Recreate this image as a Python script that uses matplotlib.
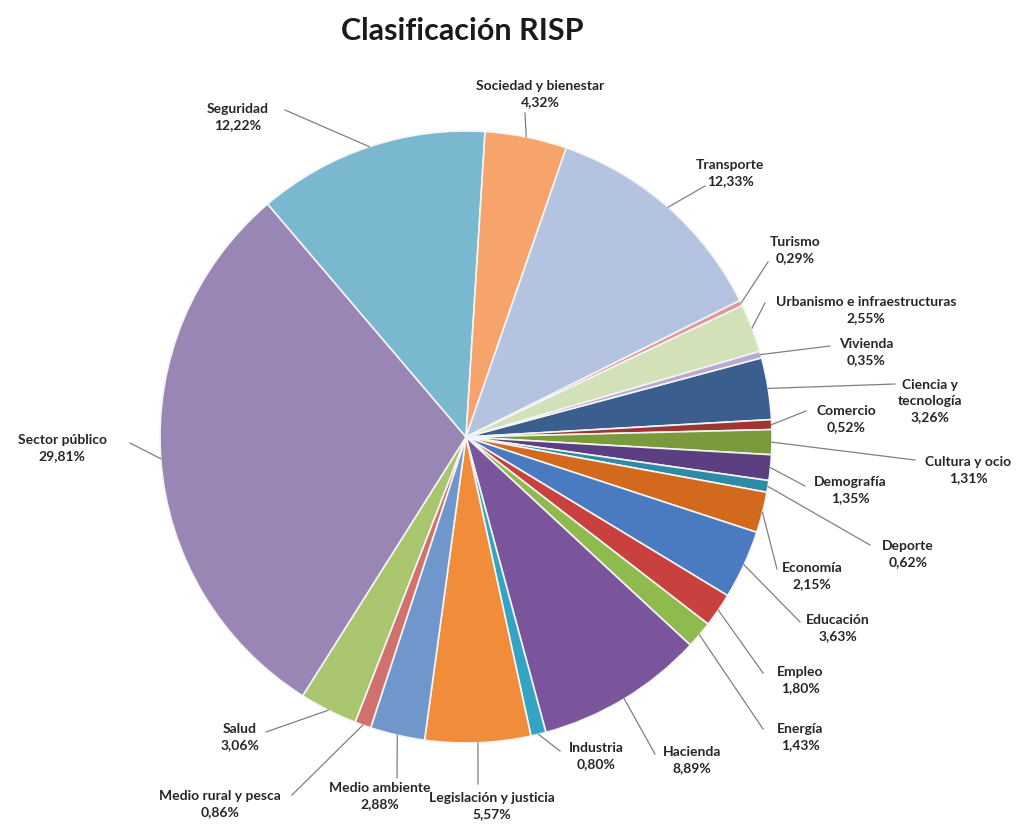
import numpy as np
import matplotlib.pyplot as plt

plt.rcParams['font.family'] = ['Lato', 'DejaVu Sans']

# data, alphabetical order (clockwise from Ciencia y tecnología)
categories = ['Ciencia y\ntecnología', 'Comercio', 'Cultura y ocio', 'Demografía', 'Deporte',
              'Economía', 'Educación', 'Empleo', 'Energía', 'Hacienda', 'Industria',
              'Legislación y justicia', 'Medio ambiente', 'Medio rural y pesca', 'Salud',
              'Sector público', 'Seguridad', 'Sociedad y bienestar', 'Transporte',
              'Turismo', 'Urbanismo e infraestructuras', 'Vivienda']
values = [3.26, 0.52, 1.31, 1.35, 0.62, 2.15, 3.63, 1.80, 1.43, 8.89, 0.80,
          5.57, 2.88, 0.86, 3.06, 29.81, 12.22, 4.32, 12.33, 0.29, 2.55, 0.35]

colors = ['#3a5f8f', '#9e3533', '#7a9a3c', '#5b3f80', '#2f8aa5', '#d2691d',
          '#4a7bc0', '#c8413f', '#8fbb4e', '#7a559b', '#35a4c4', '#f08c3a',
          '#7097cc', '#d1716d', '#a9c66f', '#9a86b4', '#79b8cf', '#f7a46c',
          '#b4c3df', '#dc9a98', '#d3e1b9', '#b9abcf']

# label centre and leader start, in pixels of the 1024x825 picture
label_pos = [(930, 401), (846, 419), (968, 470), (850, 490), (908, 554),
             (812, 576), (838, 628), (800, 680), (800, 737), (692, 760), (596, 756),
             (492, 806), (380, 796), (220, 804), (240, 737), (62, 448), (238, 117),
             (540, 94), (730, 173), (795, 250), (866, 310), (866, 352)]
leader_start = [(895, 384), (806, 411), (915, 460), (805, 486), (870, 545),
                (777, 569), (800, 622), (763, 673), (763, 729), (655, 754), (560, 751),
                (478, 784), (397, 778), (292, 795), (266, 732), (130, 443), (285, 110),
                (525, 113), (705, 186), (768, 262), (765, 303), (830, 346)]

W, H = 1024, 825
cx, cy, R = 466, 437, 306

fig = plt.figure(figsize=(W / 100, H / 100), dpi=100)
ax = fig.add_axes([0, 0, 1, 1])

wedges, _ = ax.pie(values, colors=colors, startangle=15, counterclock=False,
                   center=(cx, H - cy), radius=R,
                   wedgeprops=dict(edgecolor='#f4f4f4', linewidth=1.2))
ax.set_xlim(0, W)
ax.set_ylim(0, H)
ax.set_aspect('equal')
ax.axis('off')

for i, w in enumerate(wedges):
    mid = np.deg2rad((w.theta1 + w.theta2) / 2)
    ex = cx + R * np.cos(mid)
    ey = (H - cy) + R * np.sin(mid)
    sx, sy = leader_start[i]
    ax.plot([sx, ex], [H - sy, ey], color='#808080', lw=0.9)
    pct = f'{values[i]:.2f}'.replace('.', ',') + '%'
    lx, ly = label_pos[i]
    ax.text(lx, H - ly, categories[i] + '\n' + pct, ha='center', va='center',
            fontsize=10, fontweight='bold', color='#262626', linespacing=1.4)

ax.text(462, H - 31, 'Clasificación RISP', ha='center', va='center',
        fontsize=22, fontweight='bold', color='#1a1a1a')

fig.savefig('out.png', dpi=100)
